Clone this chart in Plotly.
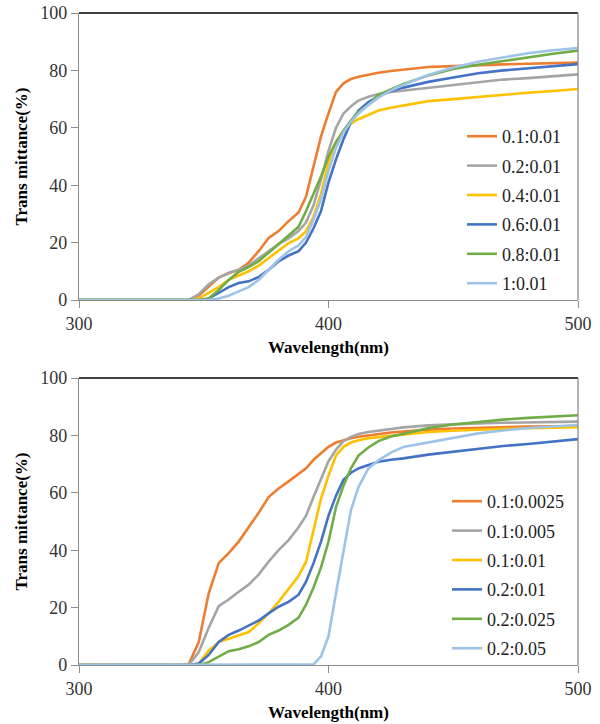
import plotly.graph_objects as go

# Shared wavelength grid (nm)
wavelength = [300, 340, 344, 348, 352, 356, 360, 364, 368, 372, 376, 380, 384, 388, 391, 394, 397,
              400, 403, 406, 409, 412, 416, 420, 425, 430, 440, 450, 460, 470, 480, 490, 500]

# ---- Top panel series (Transmittance %) ----
top_names = ["0.1:0.01", "0.2:0.01", "0.4:0.01", "0.6:0.01", "0.8:0.01", "1:0.01"]
t_01_001 = [0, 0, 0, 1.5, 4.5, 7.8, 9.3, 10.5, 13, 17, 21.6, 24, 27.5, 30.5, 36, 46, 57,
            65, 72.5, 75.5, 77, 77.8, 78.6, 79.2, 79.8, 80.3, 81.2, 81.5, 81.9, 82.1, 82.3, 82.5, 82.7]
t_02_001 = [0, 0, 0, 2, 5.5, 7.8, 9.5, 10.5, 12, 14.5, 17, 19.5, 21.5, 24, 27, 33, 42,
            52, 60, 65, 67.5, 69.5, 70.8, 71.8, 72.5, 73, 74, 75, 76, 76.8, 77.3, 78, 78.6]
t_04_001 = [0, 0, 0, 0.5, 2.5, 4.5, 7, 8.5, 10, 12, 14.5, 17, 19.8, 21.5, 24, 29, 37,
            48, 55, 59, 61.5, 63, 64.5, 66, 67, 67.8, 69.3, 70, 70.8, 71.5, 72.2, 72.8, 73.5]
t_06_001 = [0, 0, 0, 0, 0.5, 2.5, 4.5, 5.9, 6.5, 8, 10.5, 13.5, 15.5, 17, 20, 25, 31,
            41, 49, 56, 62, 66, 69, 71, 72.8, 74, 76, 77.5, 79, 80, 80.8, 81.5, 82.2]
t_08_001 = [0, 0, 0, 0, 0.5, 3.5, 7, 9.8, 11.5, 13.5, 16.5, 19.5, 22.5, 25.5, 31, 37, 43,
            50, 55, 59, 62.5, 65.5, 68, 71.5, 73.5, 75.3, 78.2, 80.5, 82, 83.3, 84.5, 85.8, 86.9]
t_1_001 = [0, 0, 0, 0, 0, 0.5, 1.5, 3, 4.5, 7, 10.5, 14, 17, 19, 22, 28, 35,
           45, 53, 58.5, 62, 65, 68, 70.5, 73, 75, 78.4, 81, 83, 84.6, 86, 87, 87.8]

# ---- Bottom panel series (Transmittance %) ----
bot_names = ["0.1:0.0025", "0.1:0.005", "0.1:0.01", "0.2:0.01", "0.2:0.025", "0.2:0.05"]
b_01_00025 = [0, 0, 0.3, 8, 25, 35.5, 39, 43, 48, 53, 58.5, 61.5, 64, 66.5, 68.5, 71.5, 73.8,
              76, 77.5, 78.3, 79, 79.5, 80, 80.6, 81, 81.3, 82, 82.4, 82.7, 82.9, 83.1, 83.2, 83.3]
b_01_0005 = [0, 0, 0, 4.5, 13, 20.5, 22.8, 25.5, 28, 31.5, 36, 40, 43.5, 48, 52, 58.5, 65,
             71, 75, 78, 79.5, 80.5, 81.2, 81.7, 82.3, 82.8, 83.5, 83.9, 84.2, 84.4, 84.5, 84.7, 84.8]
b_01_001 = [0, 0, 0, 0.5, 5, 8, 9.2, 10.3, 11.5, 14.5, 18, 22, 26.5, 31, 36, 47, 58,
            66, 73, 76, 77.5, 78.3, 79, 79.4, 79.9, 80.3, 81.2, 81.6, 82, 82.3, 82.5, 82.7, 82.9]
b_02_001 = [0, 0, 0, 0.5, 3.5, 8, 10.5, 12, 13.8, 15.5, 18, 20.3, 22, 24.5, 29, 35.5, 43,
            52, 59, 64.5, 67, 68.5, 69.7, 70.8, 71.5, 72, 73.3, 74.3, 75.3, 76.3, 77, 77.8, 78.7]
b_02_0025 = [0, 0, 0, 0, 1, 3, 4.8, 5.5, 6.5, 8, 10.5, 12, 14, 16.5, 21, 27, 34,
             43, 55, 62.5, 68.5, 73, 75.8, 78, 79.6, 80.5, 82.6, 83.8, 84.7, 85.5, 86.1, 86.6, 87]
b_02_005 = [0, 0, 0, 0, 0, 0, 0, 0, 0, 0, 0, 0, 0, 0, 0, 0.2, 3,
            10, 25, 40, 54, 62, 68.5, 71.3, 74, 76, 77.6, 79.3, 80.7, 81.7, 82.6, 83.1, 83.6]

colors = ["#ED7D31", "#A5A5A5", "#FFC000", "#4472C4", "#70AD47", "#9DC3E6"]

top_series = [t_01_001, t_02_001, t_04_001, t_06_001, t_08_001, t_1_001]
bot_series = [b_01_00025, b_01_0005, b_01_001, b_02_001, b_02_0025, b_02_005]

fig = go.Figure()
for i, (name, ys) in enumerate(zip(top_names, top_series)):
    fig.add_trace(go.Scatter(x=wavelength, y=ys, mode="lines", name=name,
                             line=dict(color=colors[i], width=2.6),
                             xaxis="x", yaxis="y", legend="legend",
                             legendgroup="t%d" % i))
for i, (name, ys) in enumerate(zip(bot_names, bot_series)):
    fig.add_trace(go.Scatter(x=wavelength, y=ys, mode="lines", name=name,
                             line=dict(color=colors[i], width=2.6),
                             xaxis="x2", yaxis="y2", legend="legend2",
                             legendgroup="b%d" % i))

# Page body margin is removed (see post_script), so figure pixels = page pixels.
W, H = 600, 724
def px_x(p):
    return p / W
def px_y(p):
    return (H - p) / H

serif = "Liberation Serif"
tickfont = dict(family=serif, size=18, color="#333333")
titlefont = dict(family=serif, size=17, color="#000000")
axcol = "#8C8C8C"

xcommon = dict(range=[300, 500], dtick=100, tick0=300, showgrid=False, zeroline=False,
               showline=True, linecolor=axcol, linewidth=1.3, ticks="outside", ticklen=7,
               tickcolor=axcol, tickfont=tickfont, automargin=False,
               ticklabeloverflow="allow",
               domain=[px_x(79), px_x(578)])
ycommon = dict(range=[0, 100], dtick=20, showgrid=False, zeroline=False,
               showline=True, linecolor=axcol, linewidth=1.3, ticks="outside", ticklen=7,
               tickcolor=axcol, tickfont=tickfont, automargin=False,
               ticklabeloverflow="allow")

fig.update_layout(
    width=W, height=H, margin=dict(l=0, r=0, t=0, b=0),
    paper_bgcolor="white", plot_bgcolor="white",
    font=dict(family=serif),
    xaxis=dict(**xcommon, anchor="y",
               title=dict(text="<b>Wavelength(nm)</b>", font=titlefont, standoff=8)),
    yaxis=dict(**ycommon, anchor="x", domain=[px_y(300), px_y(13)],
               title=dict(text="<b>Trans mittance(%)</b>", font=titlefont, standoff=8)),
    xaxis2=dict(**xcommon, anchor="y2",
                title=dict(text="<b>Wavelength(nm)</b>", font=titlefont, standoff=8)),
    yaxis2=dict(**ycommon, anchor="x2", domain=[px_y(665), px_y(378)],
                title=dict(text="<b>Trans mittance(%)</b>", font=titlefont, standoff=8)),
    legend=dict(x=px_x(462), y=px_y(118), xanchor="left", yanchor="top",
                font=dict(family=serif, size=18, color="#222222"),
                bgcolor="rgba(0,0,0,0)", tracegroupgap=3, itemwidth=30),
    legend2=dict(x=px_x(447), y=px_y(483), xanchor="left", yanchor="top",
                 font=dict(family=serif, size=18, color="#222222"),
                 bgcolor="rgba(0,0,0,0)", tracegroupgap=3, itemwidth=30),
    showlegend=True,
)

# plot-area borders: dark top, gray right
for xr, yr in (("x domain", "y domain"), ("x2 domain", "y2 domain")):
    fig.add_shape(type="line", xref=xr, yref=yr, x0=0, x1=1, y0=1, y1=1,
                  line=dict(color="#404040", width=1.8))
    fig.add_shape(type="line", xref=xr, yref=yr, x0=1, x1=1, y0=0, y1=1,
                  line=dict(color=axcol, width=1.3))

fig.write_html("out.html",
               config={"displayModeBar": False},
               post_script="document.body.style.margin='0px';document.body.style.overflow='hidden';")
